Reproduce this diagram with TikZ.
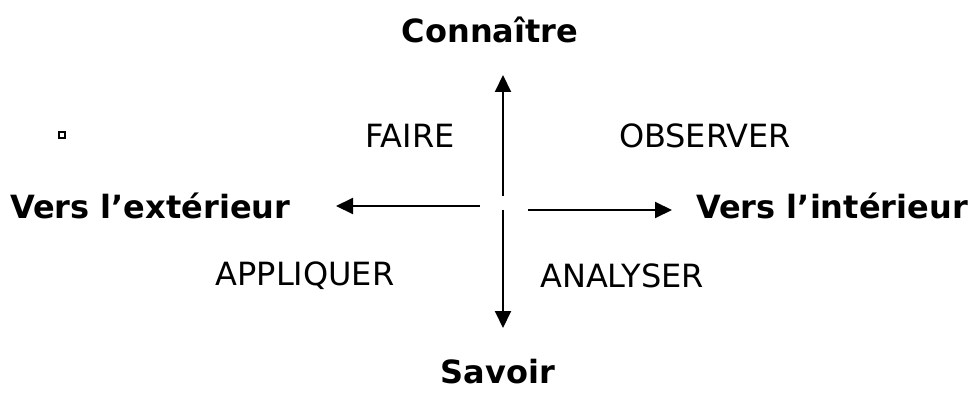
\documentclass[tikz,border=0pt]{standalone}
\usepackage{fontspec}
\setmainfont{DejaVu Sans}
\usetikzlibrary{arrows.meta}
\begin{document}
\begin{tikzpicture}[x=1pt,y=-1pt,
  lbl/.style={font=\fontsize{32}{38}\selectfont, inner sep=0pt},
  blbl/.style={font=\fontsize{32}{38}\selectfont\bfseries, inner sep=0pt},
  arr/.style={line width=2pt, -{Triangle[length=17pt,width=16pt]}}]
\useasboundingbox (0,0) rectangle (978,396);
\node[blbl] (con) at (490,30) {Connaître};
\node[blbl] (sav) at (498,372) {Savoir};
\node[blbl, anchor=west] (ext) at (10,206) {Vers l’extérieur};
\node[blbl, anchor=east] (int) at (968,206) {Vers l’intérieur};
\node[lbl] (faire) at (410,136) {FAIRE};
\node[lbl] (obs) at (705,136) {OBSERVER};
\node[lbl] (app) at (305,276) {APPLIQUER};
\node[lbl] (ana) at (622,276) {ANALYSER};
\node[draw, line width=1.2pt, minimum size=6pt, inner sep=0pt] (sq) at (62,135) {};
\coordinate (c1) at (503,196);
\coordinate (c1t) at (503,75);
\coordinate (c2) at (503,210);
\coordinate (c2t) at (503,328);
\coordinate (c3) at (480,206);
\coordinate (c3t) at (336,206);
\coordinate (c4) at (528,210);
\coordinate (c4t) at (672,210);
\draw[arr] (c1) -- (c1t);
\draw[arr] (c2) -- (c2t);
\draw[arr] (c3) -- (c3t);
\draw[arr] (c4) -- (c4t);
\end{tikzpicture}
\end{document}
